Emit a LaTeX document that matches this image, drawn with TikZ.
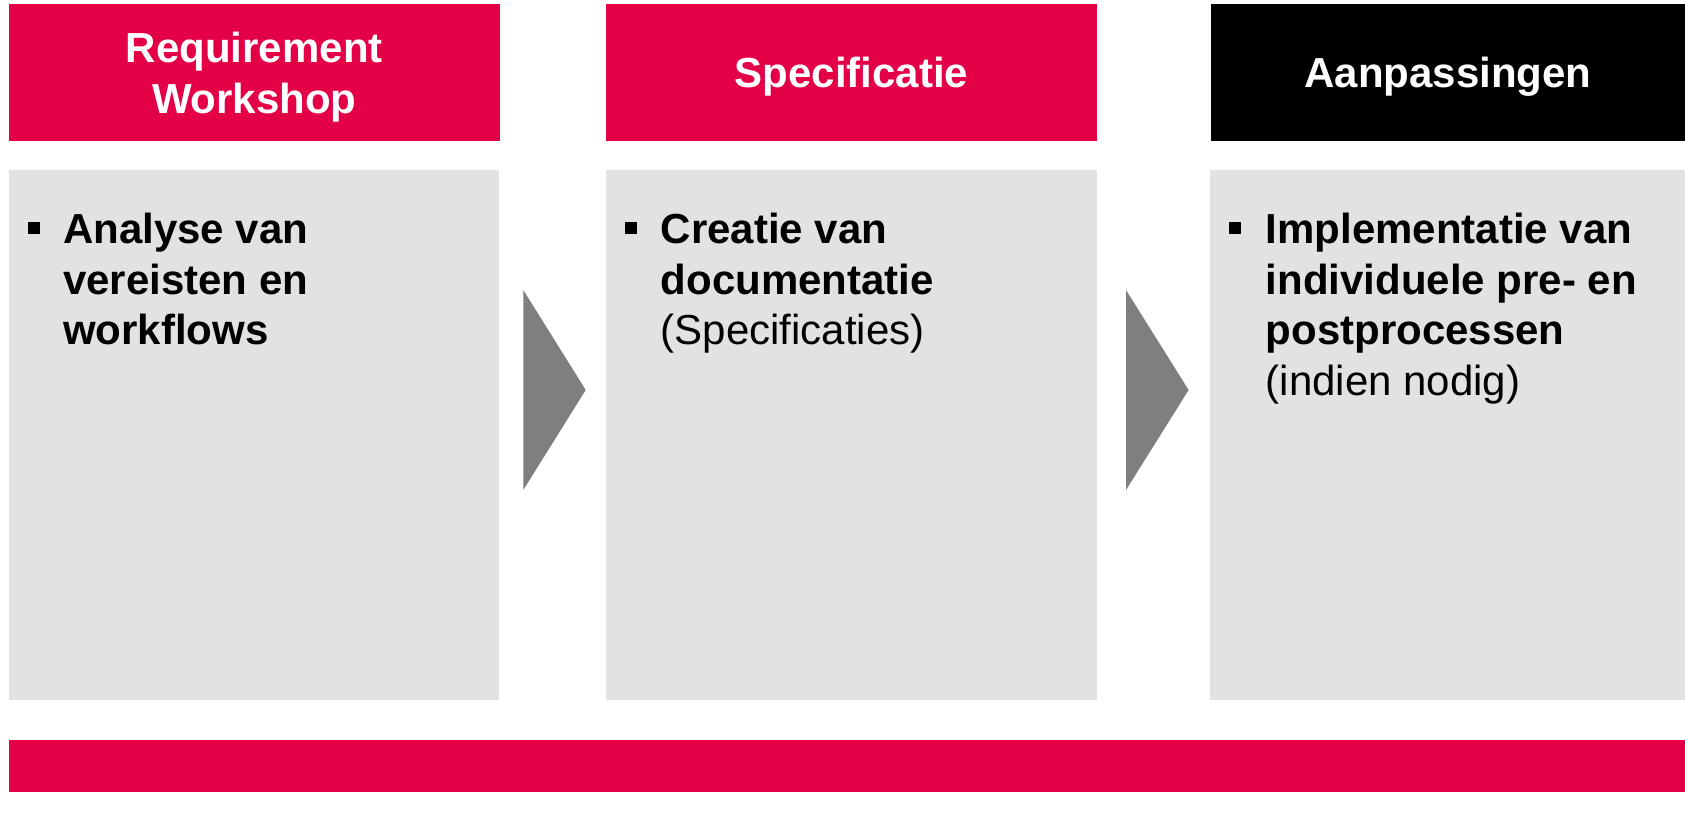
\documentclass[tikz,border=0pt]{standalone}
\usepackage{fontspec}
\setmainfont{Liberation Sans}
\definecolor{signalred}{HTML}{E40046}
\definecolor{panelgray}{HTML}{E2E2E2}
\definecolor{chevgray}{HTML}{7F7F7F}

\begin{document}
\begin{tikzpicture}[x=1pt,y=-1pt,
  phase/.style={anchor=north west,inner sep=0pt,outer sep=0pt,minimum height=136.5pt,
    text=white,align=center,text depth=0pt,font=\fontsize{42}{50.5}\selectfont\bfseries},
  panel/.style={anchor=north west,inner sep=0pt,outer sep=0pt,fill=panelgray,minimum height=529.8pt},
  item/.style={anchor=north west,inner sep=0pt,align=left,font=\fontsize{42}{50.5}\selectfont}]
\useasboundingbox (0,0) rectangle (1685,813);
% headers
\node[phase,fill=signalred,minimum width=491.4pt] (h1) at (8.6,4.3) {Requirement\\Workshop};
\node[phase,fill=signalred,minimum width=491pt] (h2) at (606,4.3) {Specificatie};
\node[phase,fill=black,minimum width=474pt] (h3) at (1211,4.3) {Aanpassingen};
% panels
\node[panel,minimum width=490.4pt] (g1) at (8.6,169.8) {};
\node[panel,minimum width=491pt] (g2) at (606,169.8) {};
\node[panel,minimum width=475pt] (g3) at (1210,169.8) {};
%\draw (g1) -- (g2);
\fill[chevgray] (523.3,290) -- (585.7,390) -- (523.3,490) -- cycle;
\fill[chevgray] (1126,290) -- (1188.6,390) -- (1126,490) -- cycle;
% bullets and texts
\fill[black] (27.5,222) rectangle ++(12,12);
\fill[black] (624.5,222) rectangle ++(12,12);
\fill[black] (1228.5,222) rectangle ++(12,12);
\node[item] (t1) at (63,207.5) {\rule{0pt}{36pt}\textbf{Analyse van}\\\textbf{vereisten en}\\\textbf{workflows}};
\node[item] (t2) at (660.5,207.5) {\rule{0pt}{36pt}\textbf{Creatie van}\\\textbf{documentatie}\\(Specificaties)};
\node[item] (t3) at (1265.5,207.5) {\rule{0pt}{36pt}\textbf{Implementatie van}\\\textbf{individuele pre- en}\\\textbf{postprocessen}\\(indien nodig)};
% bottom bar
\fill[signalred] (8.6,740) rectangle (1685,791.5);
\end{tikzpicture}
\end{document}
